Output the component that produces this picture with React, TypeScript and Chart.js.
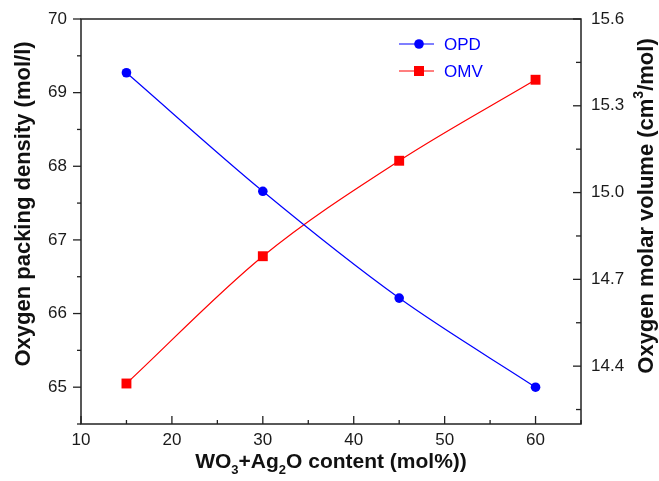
import React, { useEffect, useRef } from "react";
import { Chart, registerables } from "chart.js";

Chart.register(...registerables);

const X_VALUES = [15, 30, 45, 60];
const OPD_VALUES = [69.27, 67.66, 66.21, 65.0];
const OMV_VALUES = [14.34, 14.78, 15.11, 15.39];

const X_TICKS = [10, 20, 30, 40, 50, 60];
const X_MINOR = [15, 25, 35, 45, 55, 65];
const LEFT_TICKS = [65, 66, 67, 68, 69, 70];
const LEFT_MINOR = [64.5, 65.5, 66.5, 67.5, 68.5, 69.5];
const RIGHT_TICKS = [14.4, 14.7, 15.0, 15.3, 15.6];
const RIGHT_MINOR = [14.25, 14.55, 14.85, 15.15, 15.45];

const SERIES_NAMES = ["OPD", "OMV"];

const FONT = '"Liberation Sans", Arial, Helvetica, sans-serif';

type Seg = { t: string; s?: "sub" | "sup" };

const X_TITLE: Seg[] = [
  { t: "WO" }, { t: "3", s: "sub" }, { t: "+Ag" }, { t: "2", s: "sub" }, { t: "O content (mol%))" },
];
const LEFT_TITLE: Seg[] = [{ t: "Oxygen packing density (mol/l)" }];
const RIGHT_TITLE: Seg[] = [
  { t: "Oxygen molar volume (cm" }, { t: "3", s: "sup" }, { t: "/mol)" },
];

function drawRich(ctx: CanvasRenderingContext2D, segs: Seg[], size: number) {
  const big = `bold ${size}px ${FONT}`;
  const small = `bold ${Math.round(size * 0.62)}px ${FONT}`;
  let total = 0;
  const widths = segs.map((sg) => {
    ctx.font = sg.s ? small : big;
    const w = ctx.measureText(sg.t).width;
    total += w;
    return w;
  });
  let x = -total / 2;
  ctx.textBaseline = "alphabetic";
  ctx.textAlign = "left";
  segs.forEach((sg, i) => {
    ctx.font = sg.s ? small : big;
    let dy = 0;
    if (sg.s === "sub") dy = size * 0.28;
    if (sg.s === "sup") dy = -size * 0.42;
    ctx.fillText(sg.t, x, size * 0.35 + dy);
    x += widths[i];
  });
}

const framePlugin = {
  id: "frameAndTitles",
  afterDraw(chart: any) {
    const ctx: CanvasRenderingContext2D = chart.ctx;
    const { left, right, top, bottom } = chart.chartArea;
    const xs = chart.scales.x;
    const ys = chart.scales.y;
    const y1 = chart.scales.y1;
    ctx.save();
    ctx.strokeStyle = "#222";
    ctx.lineWidth = 1.5;
    ctx.strokeRect(left, top, right - left, bottom - top);

    ctx.lineWidth = 1.3;
    const line = (x0: number, y0: number, x1: number, y1p: number) => {
      ctx.beginPath();
      ctx.moveTo(x0, y0);
      ctx.lineTo(x1, y1p);
      ctx.stroke();
    };
    X_TICKS.forEach((v) => { const p = xs.getPixelForValue(v); line(p, bottom, p, bottom - 8); });
    X_MINOR.forEach((v) => { const p = xs.getPixelForValue(v); line(p, bottom, p, bottom - 4); });
    LEFT_TICKS.forEach((v) => { const p = ys.getPixelForValue(v); line(left, p, left - 8, p); });
    LEFT_MINOR.forEach((v) => { const p = ys.getPixelForValue(v); line(left, p, left - 4, p); });
    RIGHT_TICKS.forEach((v) => { const p = y1.getPixelForValue(v); line(right, p, right - 8, p); });
    RIGHT_MINOR.forEach((v) => { const p = y1.getPixelForValue(v); line(right, p, right - 5, p); });

    ctx.fillStyle = "#111";
    ctx.save();
    ctx.translate((left + right) / 2, 461);
    drawRich(ctx, X_TITLE, 21);
    ctx.restore();

    ctx.save();
    ctx.translate(22, 204);
    ctx.rotate(-Math.PI / 2);
    drawRich(ctx, LEFT_TITLE, 22);
    ctx.restore();

    ctx.save();
    ctx.translate(645, 206);
    ctx.rotate(-Math.PI / 2);
    drawRich(ctx, RIGHT_TITLE, 22);
    ctx.restore();

    // legend
    chart.data.datasets.forEach((ds: any, i: number) => {
      const ly = top + 25 + i * 27;
      const lx = left + 318;
      ctx.strokeStyle = ds.borderColor;
      ctx.lineWidth = 1.2;
      line(lx, ly, lx + 35, ly);
      ctx.fillStyle = ds.backgroundColor;
      if (ds.pointStyle === "rect") {
        ctx.fillRect(lx + 20 - 5, ly - 5, 10, 10);
      } else {
        ctx.beginPath();
        ctx.arc(lx + 20, ly, 4.8, 0, Math.PI * 2);
        ctx.fill();
      }
      ctx.fillStyle = "#0000ff";
      ctx.font = `17px ${FONT}`;
      ctx.textAlign = "left";
      ctx.textBaseline = "middle";
      ctx.fillText(SERIES_NAMES[i], lx + 45, ly + 1);
    });
    ctx.restore();
  },
};

const noPad = (s: any) => {
  s.paddingTop = 0;
  s.paddingBottom = 0;
  s.paddingLeft = 0;
  s.paddingRight = 0;
};

export default function App() {
  const ref = useRef<HTMLCanvasElement | null>(null);
  useEffect(() => {
    if (!ref.current) return;
    const tickFont = { family: FONT, size: 17 };
    const chart = new Chart(ref.current, {
      type: "line",
      data: {
        datasets: [
          {
            label: SERIES_NAMES[0],
            data: X_VALUES.map((x, i) => ({ x, y: OPD_VALUES[i] })),
            yAxisID: "y",
            borderColor: "#0000ff",
            backgroundColor: "#0000ff",
            borderWidth: 1.2,
            pointStyle: "circle",
            pointRadius: 4.8,
            pointBorderWidth: 0,
            cubicInterpolationMode: "monotone",
          },
          {
            label: SERIES_NAMES[1],
            data: X_VALUES.map((x, i) => ({ x, y: OMV_VALUES[i] })),
            yAxisID: "y1",
            borderColor: "#ff0000",
            backgroundColor: "#ff0000",
            borderWidth: 1.2,
            pointStyle: "rect",
            pointRadius: 7,
            pointBorderWidth: 0,
            cubicInterpolationMode: "monotone",
          },
        ],
      },
      options: {
        responsive: false,
        animation: false,
        devicePixelRatio: 1,
        layout: { padding: { top: 19, left: 0, right: 0, bottom: 0 } },
        plugins: { legend: { display: false }, tooltip: { enabled: false } },
        scales: {
          x: {
            type: "linear",
            position: "bottom",
            min: 10,
            max: 65,
            grid: { display: false, drawTicks: false },
            border: { display: false },
            afterBuildTicks: (s: any) => { s.ticks = X_TICKS.map((v) => ({ value: v })); },
            afterFit: (s: any) => { s.height = 57; noPad(s); },
            ticks: { font: tickFont, color: "#1a1a1a", padding: 6, maxRotation: 0, autoSkip: false },
          },
          y: {
            type: "linear",
            position: "left",
            min: 64.5,
            max: 70,
            grid: { display: false, drawTicks: false },
            border: { display: false },
            afterBuildTicks: (s: any) => { s.ticks = LEFT_TICKS.map((v) => ({ value: v })); },
            afterFit: (s: any) => { s.width = 81; noPad(s); },
            ticks: { font: tickFont, color: "#1a1a1a", padding: 14, autoSkip: false, callback: (v: any) => String(v) },
          },
          y1: {
            type: "linear",
            position: "right",
            min: 14.2,
            max: 15.6,
            grid: { display: false, drawTicks: false },
            border: { display: false },
            afterBuildTicks: (s: any) => { s.ticks = RIGHT_TICKS.map((v) => ({ value: v })); },
            afterFit: (s: any) => { s.width = 78; noPad(s); },
            ticks: { font: tickFont, color: "#1a1a1a", padding: 10, autoSkip: false, callback: (v: any) => Number(v).toFixed(1) },
          },
        },
      } as any,
      plugins: [framePlugin],
    });
    return () => chart.destroy();
  }, []);
  return (
    <div style={{ position: "fixed", left: 0, top: 0, width: 659, height: 481, background: "#fff" }}>
      <canvas ref={ref} width={659} height={481} style={{ display: "block" }} />
    </div>
  );
}
